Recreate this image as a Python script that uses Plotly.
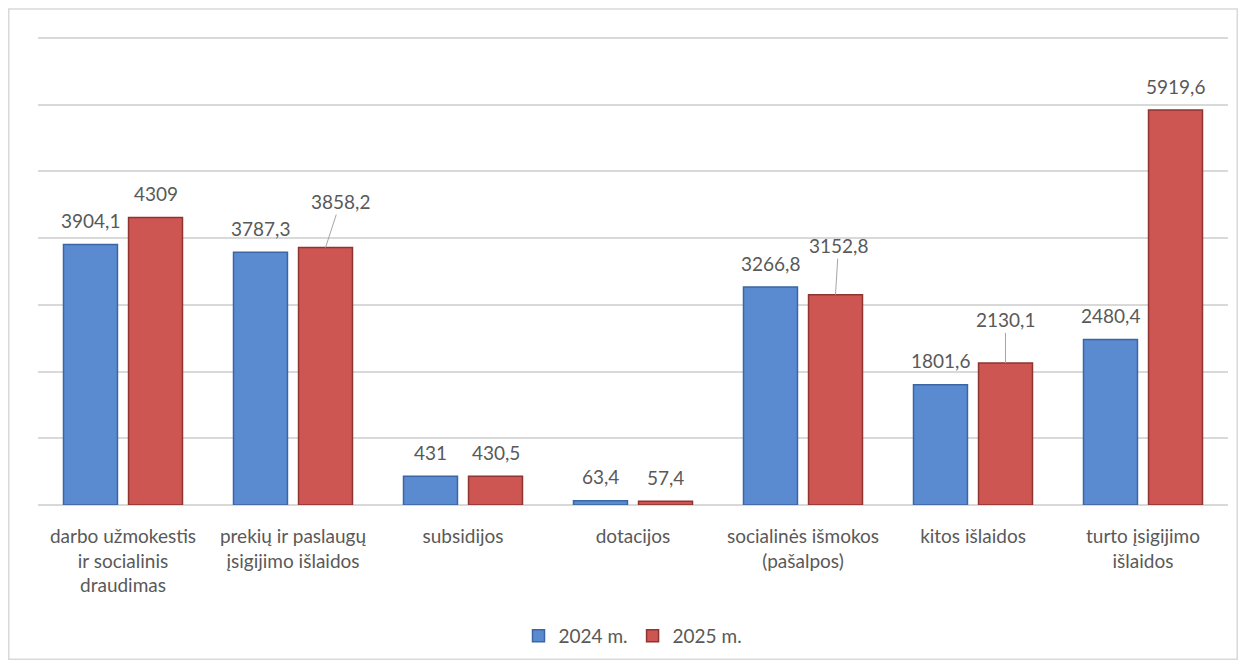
import plotly.graph_objects as go

categories = [
    "darbo užmokestis<br>ir socialinis<br>draudimas",
    "prekių ir paslaugų<br>įsigijimo išlaidos",
    "subsidijos",
    "dotacijos",
    "socialinės išmokos<br>(pašalpos)",
    "kitos išlaidos",
    "turto įsigijimo<br>išlaidos",
]
series_names = ["2024 m.", "2025 m."]
values_2024 = [3904.1, 3787.3, 431, 63.4, 3266.8, 1801.6, 2480.4]
values_2025 = [4309, 3858.2, 430.5, 57.4, 3152.8, 2130.1, 5919.6]

# label placement styling (pixel offsets of leader-line labels for 2025 series)
leader_2025 = {1: (15, -46), 4: (3, -49), 5: (0, -43)}

FONT = "Lato, Calibri, sans-serif"
TXT = "#595959"
FS = 19
# page has an 8px body margin, so the figure is 8px smaller than the window
W, H = 1230, 652
ML, MR, MT, MB = 30, 10, 28, 155
YMAX = 7030


def fmt(v):
    s = ("%g" % v)
    return s.replace(".", ",")


fig = go.Figure()
fig.add_trace(go.Bar(
    name=series_names[0], x=categories, y=values_2024,
    marker=dict(color="#5a8ad0", line=dict(color="#3b66a3", width=1.5)),
))
fig.add_trace(go.Bar(
    name=series_names[1], x=categories, y=values_2025,
    marker=dict(color="#cd5653", line=dict(color="#8e3532", width=1.5)),
))

ann = []
for i, (c, v) in enumerate(zip(categories, values_2024)):
    ann.append(dict(x=c, y=v, xref="x", yref="y", text=fmt(v), showarrow=False,
                    xshift=-32.5, yshift=24, yanchor="middle",
                    font=dict(family=FONT, size=FS, color=TXT)))
for i, (c, v) in enumerate(zip(categories, values_2025)):
    if i in leader_2025:
        ax, ay = leader_2025[i]
        ann.append(dict(x=c, y=v, xref="x", yref="y", text=fmt(v), showarrow=True,
                        arrowhead=0, arrowwidth=1, arrowcolor="#a6a6a6",
                        ax=ax, ay=ay, xshift=32.5, standoff=0,
                        font=dict(family=FONT, size=FS, color=TXT)))
    else:
        ann.append(dict(x=c, y=v, xref="x", yref="y", text=fmt(v), showarrow=False,
                        xshift=32.5, yshift=24, yanchor="middle",
                        font=dict(family=FONT, size=FS, color=TXT)))

pw = W - ML - MR
ph = H - MT - MB
shapes = [dict(type="rect", xref="paper", yref="paper",
               x0=(0.75 - ML) / pw, x1=(1229.25 - ML) / pw,
               y0=((H - MB) - 651.25) / ph, y1=((H - MB) - 1) / ph,
               line=dict(color="#d9d9d9", width=1.5), fillcolor="rgba(0,0,0,0)",
               layer="below")]

fig.update_layout(
    width=W, height=H,
    margin=dict(l=ML, r=MR, t=MT, b=MB, autoexpand=False),
    paper_bgcolor="white", plot_bgcolor="white",
    barmode="group", bargap=0.235, bargroupgap=0.17,
    font=dict(family=FONT, size=FS, color=TXT),
    showlegend=True,
    legend=dict(orientation="h", x=0.5, xanchor="center",
                y=-(628 - (H - MB)) / ph, yanchor="middle",
                font=dict(family=FONT, size=FS, color=TXT), itemwidth=30),
    annotations=ann,
    shapes=shapes,
)
fig.update_xaxes(showgrid=False, showline=False, ticks="", ticklabelstandoff=18,
                 automargin=False,
                 tickfont=dict(family=FONT, size=FS, color=TXT))
fig.update_yaxes(range=[0, YMAX], dtick=1000, showgrid=True, gridcolor="#d9d9d9",
                 gridwidth=1.5, showticklabels=False, zeroline=True, automargin=False,
                 zerolinecolor="#d9d9d9", zerolinewidth=1.5, showline=False)

fig.write_html("out.html")
